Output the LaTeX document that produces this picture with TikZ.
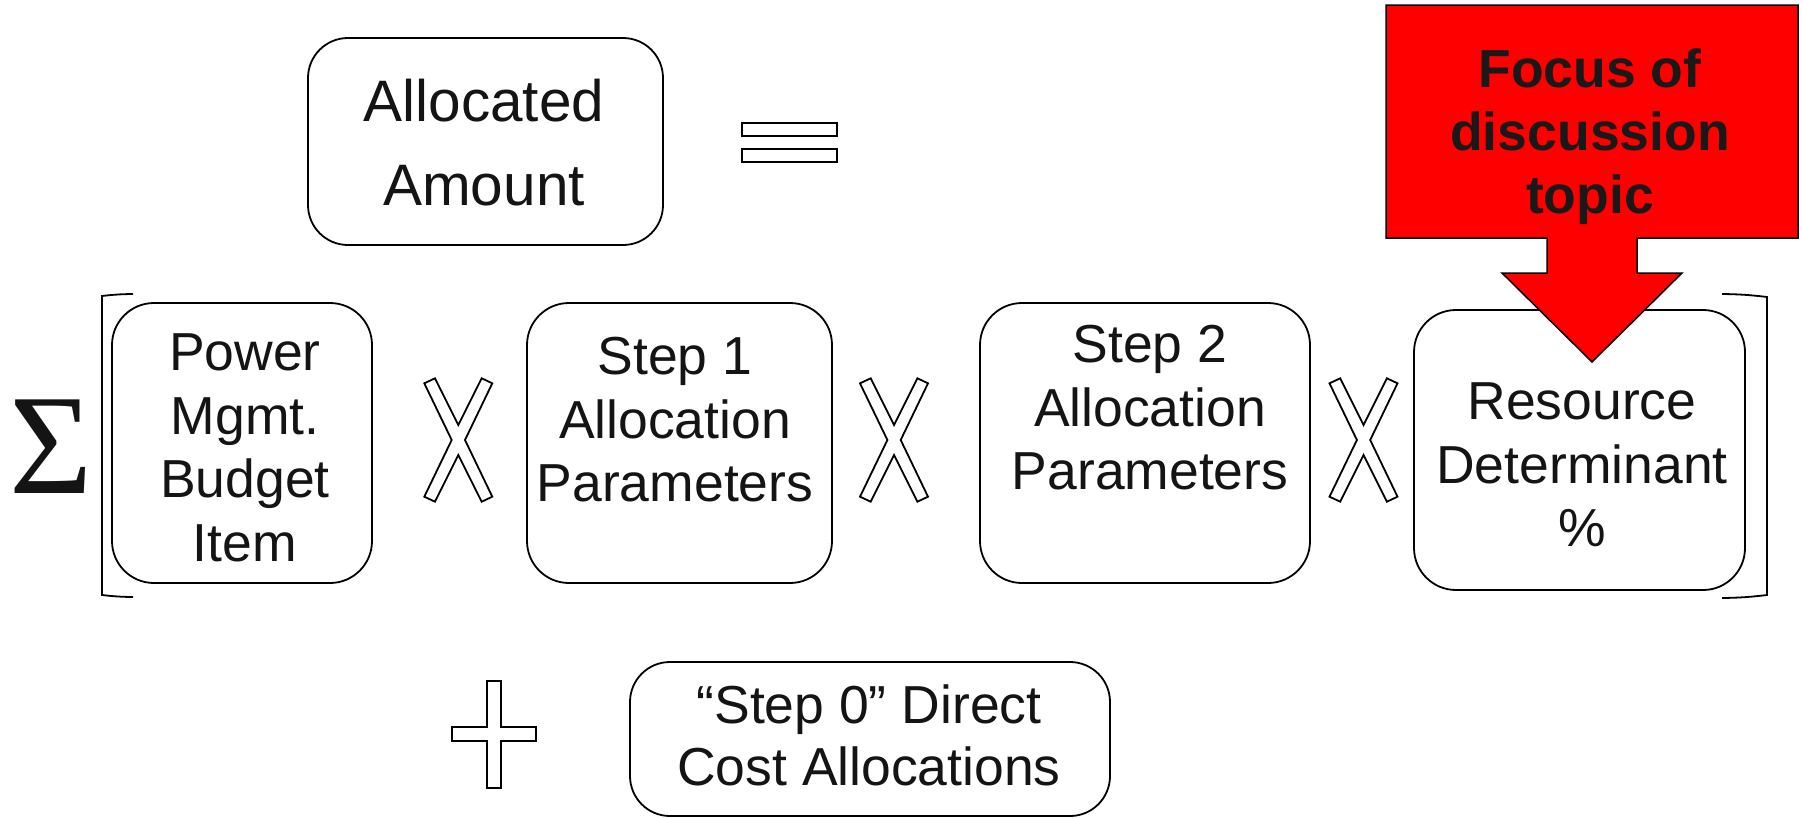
\documentclass[tikz,border=0pt]{standalone}
\usepackage{fontspec}
\setmainfont{Liberation Sans}
\newfontfamily\serifgr{Liberation Serif}
\begin{document}
\begin{tikzpicture}[x=1pt,y=-1pt,
  box/.style={draw=black,line width=1.8pt,rounded corners=42pt,inner sep=0pt,fill=white},
  txt/.style={align=center,inner sep=0pt,text=black!92,font=\fontsize{53.5}{63.5}\selectfont},
  sym/.style={draw=black,line width=1.8pt,fill=white,line join=miter},
  brk/.style={draw=black,line width=1.8pt}]
\useasboundingbox (0,0) rectangle (1802,819);
\fill[white] (0,0) rectangle (1802,819);

% boxes
\node[box,minimum width=355pt,minimum height=207pt,rounded corners=40pt] (alloc) at (485.5,141.5) {};
\node[box,minimum width=260pt,minimum height=280pt] (power) at (242,443) {};
\node[box,minimum width=305pt,minimum height=280pt] (step1) at (679.5,443) {};
\node[box,minimum width=330pt,minimum height=280pt] (step2) at (1145,443) {};
\node[box,minimum width=331pt,minimum height=280pt] (res) at (1579.5,450) {};
\node[box,minimum width=480pt,minimum height=154pt,rounded corners=40pt] (step0) at (870,739) {};

% texts
\node[txt,font=\fontsize{58.5}{84}\selectfont] (alloctxt) at (484,142.5) {Allocated\\Amount};
\node[txt] (powertxt) at (245,448) {Power\\Mgmt.\\Budget\\Item};
\node[txt] (step1txt) at (675,420) {Step 1\\Allocation\\Parameters};
\node[txt] (step2txt) at (1150,408) {Step 2\\Allocation\\Parameters};
\node[txt] (restxt) at (1582,465) {Resource\\Determinant\\\%};
\node[txt,font=\fontsize{53.5}{62}\selectfont] (step0txt) at (869,735) {“Step 0” Direct\\Cost Allocations};

% sigma
\node[inner sep=0pt,anchor=base,font=\serifgr\fontsize{143}{143}\selectfont,text=black!92] (sigma) at (51.5,493) {Σ};

% brackets
\draw[brk] (133,294) to[bend right=3] (102,296) -- (102,595) to[bend right=3] (133,597);
\draw[brk] (1722,294) to[bend left=3] (1767,297) -- (1767,595) to[bend left=3] (1722,598);

% equals
\draw[sym] (742,123) rectangle (837,136);
\draw[sym] (742,149) rectangle (837,162);

% plus
\draw[sym] (487,681) -- (501,681) -- (501,727) -- (536,727) -- (536,741) -- (501,741) -- (501,788)
  -- (487,788) -- (487,741) -- (452,741) -- (452,727) -- (487,727) -- cycle;

% times signs
\foreach \cx in {458.3,894,1363.5}{
  \begin{scope}[shift={(\cx,0)}]
  \draw[sym] (-34,383.3) -- (-23.3,378.3) -- (0,425) -- (23.4,378.3) -- (34,383.3) -- (6.7,440)
    -- (34,496.7) -- (23.4,501.7) -- (0,455) -- (-23.3,501.7) -- (-34,496.7) -- (-6.6,440) -- cycle;
  \end{scope}
}

% red arrow
\draw[draw=black,line width=1.5pt,fill=red,line join=miter]
  (1386,5) -- (1798,5) -- (1798,238) -- (1637,238) -- (1637,273) -- (1682,273) -- (1592,362)
  -- (1502,273) -- (1547,273) -- (1547,238) -- (1386,238) -- cycle;
\node[txt,font=\bfseries\fontsize{53.5}{63}\selectfont,text=black!90] (focus) at (1590,136.7) {Focus of\\discussion\\topic};
\end{tikzpicture}
\end{document}
